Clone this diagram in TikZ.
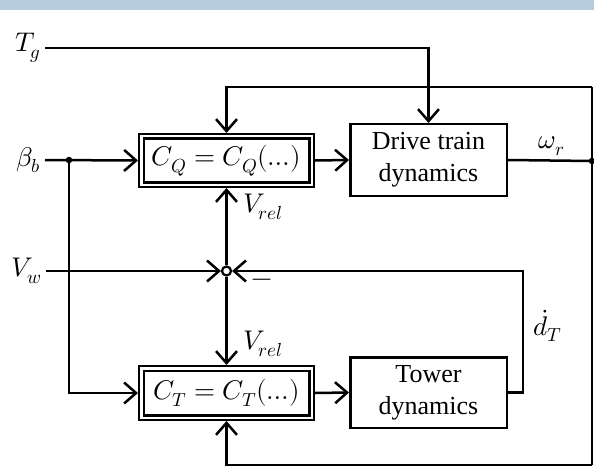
\documentclass[tikz,border=0pt]{standalone}
\usepackage{fontspec}
\usepackage{unicode-math}
\setmainfont{Liberation Serif}
\setmathfont{Latin Modern Math}
\usetikzlibrary{arrows.meta}
\definecolor{bandblue}{RGB}{180,204,222}
\tikzset{
  lbl/.style={inner sep=0pt, font=\fontsize{27}{32}\selectfont},
  blk/.style={draw, line width=2.5pt, align=center, font=\fontsize{26}{32}\selectfont, inner sep=2pt},
  dblk/.style={draw, line width=2.2pt, double, double distance=2.3pt, inner sep=2pt, outer sep=3.35pt, font=\fontsize{27}{32}\selectfont},
  arr/.style={-{Straight Barb[length=12pt,width=21pt]}},
  wire/.style={line width=2.5pt},
  dotp/.style={circle, fill, inner sep=0pt, minimum size=6.5pt}
}
\begin{document}
\begin{tikzpicture}[x=1pt,y=-1pt]
\useasboundingbox (0,0) rectangle (594,468);
\fill[bandblue] (0,0) rectangle (594,10);

% blocks
\node[dblk, minimum width=170.3pt, minimum height=48.3pt] (CQ) at (226.5,160.5) {$C_Q = C_Q(\ldots)$};
\node[dblk, minimum width=170.3pt, minimum height=49.3pt] (CT) at (226.5,393) {$C_T = C_T(\ldots)$};
\node[blk, minimum width=156.5pt, minimum height=71.5pt] (DT) at (428.5,160) {Drive train\\dynamics};
\node[blk, minimum width=156.5pt, minimum height=70.5pt] (TD) at (428.5,392.5) {Tower\\dynamics};
\node[draw, circle, line width=2.2pt, fill=white, inner sep=0pt, minimum size=9pt] (sum) at (226.5,271) {};

% labels
\node[lbl, anchor=east] (Tg) at (41,48) {$T_g$};
\node[lbl, anchor=east] (bb) at (41,160) {$\beta_b$};
\node[lbl, anchor=east] (Vw) at (42,271) {$V_w$};
\node[lbl] (wr) at (552,146) {$\omega_r$};
\node[lbl] (dT) at (548,326) {$\dot{d}_T$};
\node[lbl, anchor=west] (Vr1) at (243,207) {$V_{rel}$};
\node[lbl, anchor=west] (Vr2) at (243,344) {$V_{rel}$};
\node[lbl] (minus) at (262,283) {$-$};

% coordinates
\coordinate (bdot) at (69,160);
\coordinate (rdot) at (592,161);
\coordinate (rtop) at (592,87);
\coordinate (rbot) at (592,465);
\coordinate (ctop) at (226.5,87);
\coordinate (cbot) at (226.5,465);
\coordinate (dcor) at (523,271);

% wires
\draw[wire, arr] (Tg.east) ++(4pt,0) -| (DT.north);
\draw[wire, arr] (bb.east) ++(4pt,0) -- (CQ.west);
\draw[wire, arr] (bdot) |- (CT.west);
\draw[wire, arr] (Vw.east) ++(4pt,0) -- (sum.west);
\draw[wire, arr] (CQ.east) -- (DT.west);
\draw[wire, arr] (CT.east) -- (TD.west);
\draw[wire] (DT.east) -- (rdot);
\draw[wire] (rbot) -- (rtop);
\draw[wire, arr] (rtop) -- (ctop) -- (CQ.north);
\draw[wire, arr] (rbot) -- (cbot) -- (CT.south);
\draw[wire, arr] (sum.north) -- (CQ.south);
\draw[wire, arr] (sum.south) -- (CT.north);
\draw[wire, arr] (TD.east) -| (dcor) -- (sum.east);

\node[dotp] at (bdot) {};
\node[dotp] at (rdot) {};
\end{tikzpicture}
\end{document}
